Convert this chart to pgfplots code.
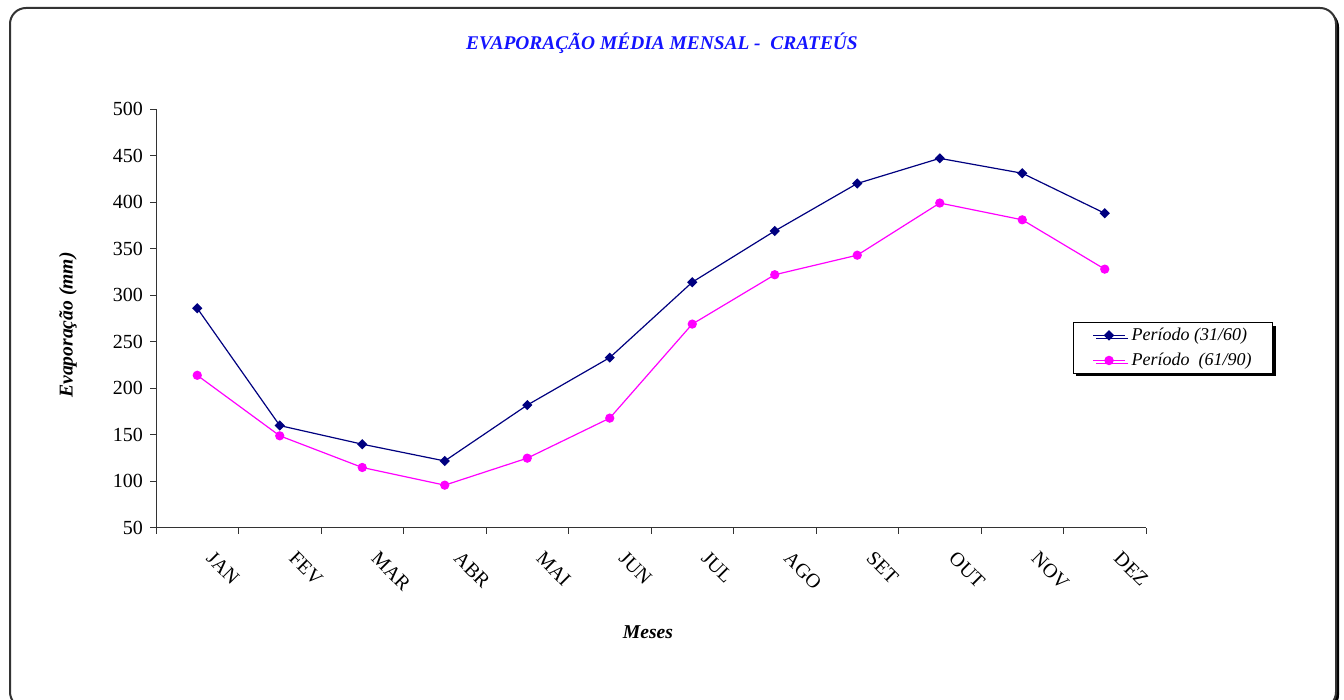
\documentclass[border=0pt]{standalone}
\usepackage{fontspec}
\setmainfont{Liberation Serif}
\usepackage{pgfplots}
\pgfplotsset{compat=1.18}
\usetikzlibrary{shadows}

\definecolor{serieA}{RGB}{0,0,128}
\definecolor{serieB}{RGB}{255,0,255}
\definecolor{titulo}{RGB}{20,20,255}

\begin{document}
\begin{tikzpicture}
\useasboundingbox (0pt,0pt) rectangle (672pt,350pt);
% moldura arredondada com sombra
\begin{scope}
\clip (0pt,0pt) rectangle (672pt,350pt);
\fill[black, rounded corners=8pt] (6.5pt,-5.5pt) rectangle (669.5pt,344.5pt);
\draw[line width=1pt, draw=black!80, fill=white, rounded corners=8pt] (5pt,-4pt) rectangle (668pt,346pt);
\end{scope}
\node[font=\fontsize{9.7}{11}\selectfont\bfseries\itshape, text=titulo] at (331pt,328.5pt)
  {EVAPORAÇÃO MÉDIA MENSAL -\ \ CRATEÚS};
\begin{axis}[
  at={(78pt,86pt)}, anchor=south west,
  scale only axis, width=495pt, height=209.5pt,
  xmin=-0.5, xmax=11.5, ymin=50, ymax=500,
  axis lines*=left,
  axis line style={line width=0.5pt, black!80},
  tick align=outside,
  major tick length=3pt, minor tick length=3pt,
  xtick={0,...,11},
  xticklabels={JAN,FEV,MAR,ABR,MAI,JUN,JUL,AGO,SET,OUT,NOV,DEZ},
  minor xtick={-0.5,0.5,...,11.5},
  major x tick style={draw=none},
  minor x tick style={black!80, line width=0.5pt},
  ytick={50,100,...,500},
  ytick style={black!80, line width=0.5pt},
  /pgf/number format/assume math mode=true,
  tick label style={font=\fontsize{10}{12}\selectfont},
  xticklabel style={anchor=west, inner sep=0pt, xshift=6.25pt, yshift=-10.5pt, rotate=-45},
  xlabel={Meses},
  ylabel={Evaporação (mm)},
  label style={font=\fontsize{9.8}{12}\selectfont\bfseries\itshape},
  xlabel style={at={(axis description cs:0.497,-0.248)}, anchor=center},
  ylabel style={at={(axis description cs:-0.089,0.4845)}, anchor=center},
  legend style={at={(axis description cs:0.926,0.4916)}, anchor=north west,
    draw=black, line width=0.6pt, fill=white,
    drop shadow={shadow xshift=1.5pt, shadow yshift=-1.5pt, fill=black, opacity=1},
    font=\fontsize{9}{11}\selectfont\itshape,
    inner xsep=9.5pt, inner ysep=1.5pt, row sep=2.8pt, column sep=2pt,
    nodes={inner xsep=1pt, inner ysep=1pt}},
  legend cell align=left,
  legend image code/.code={%
    \draw[#1, mark repeat=2, mark phase=2, line width=0.7pt]
      plot coordinates {(0pt,0pt) (8pt,0pt) (16pt,0pt)};},
]
\addplot[serieA, line width=0.6pt, mark=square*, mark size=1.5pt,
  mark options={solid, fill=serieA, rotate=45}]
  coordinates {(0,286) (1,160) (2,140) (3,122) (4,182) (5,233)
               (6,314) (7,369) (8,420) (9,447) (10,431) (11,388)};
\addlegendentry{Período (31/60)}
\addplot[serieB, line width=0.6pt, mark=*, mark size=2pt,
  mark options={solid, fill=serieB}]
  coordinates {(0,214) (1,149) (2,115) (3,96) (4,125) (5,168)
               (6,269) (7,322) (8,343) (9,399) (10,381) (11,328)};
\addlegendentry{Período\ \ (61/90)}
\end{axis}
\end{tikzpicture}
\end{document}
